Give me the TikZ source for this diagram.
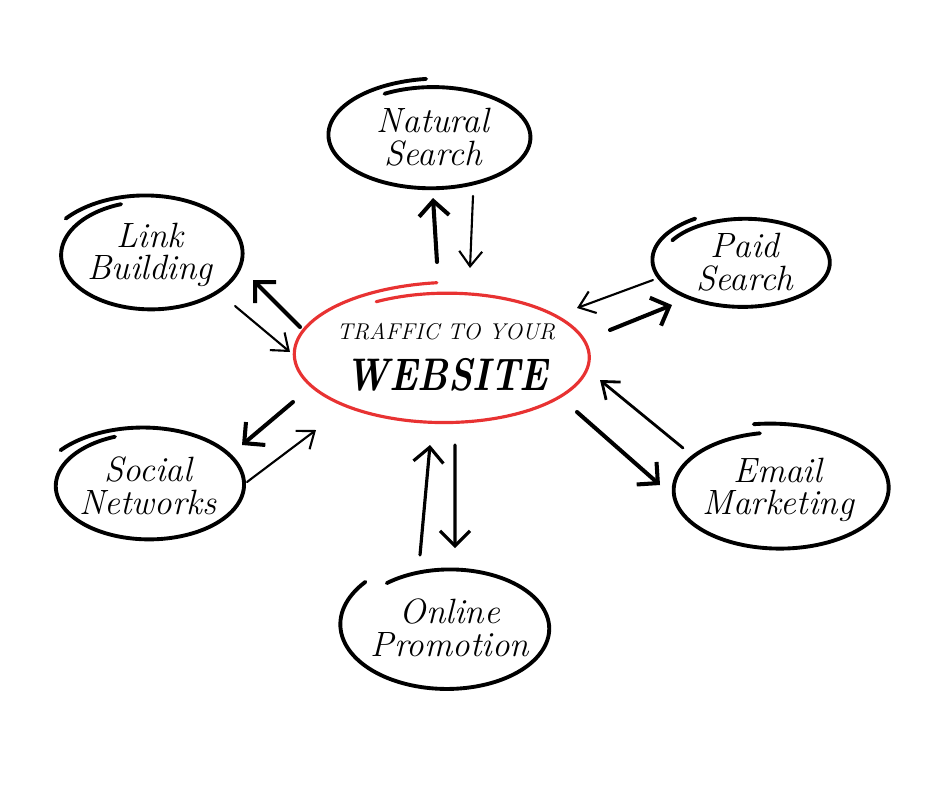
\documentclass[tikz,border=0pt]{standalone}
\usepackage{tikz}
\usepackage{graphicx}
\usetikzlibrary{calc,arrows.meta,shapes.geometric}
\definecolor{penred}{RGB}{232,50,50}

\begin{document}
\begin{tikzpicture}[
  topic/.style={ellipse, inner sep=0pt, align=center, font=\fontsize{20}{18.5}\selectfont\itshape},
  pen/.style={line width=2.2pt, line cap=round, line join=round},
  thinarr/.style={line width=1.2pt, line cap=round, -{Straight Barb[length=3mm,width=4.6mm]}},
  thickarr/.style={line width=2.3pt, line cap=round, -{Straight Barb[length=3mm,width=6mm]}}
]
\useasboundingbox (0,0) rectangle (18.8,-15.76);
% sketchy outline: style, node, x radius, y radius, start angle, sweep
\def\ring#1#2#3#4#5#6{\draw[#1, shift={(#2.center)}] plot[domain=0:1, samples=120, smooth]
  ({#3*(0.96+0.16*\x^3)*cos(#5+#6*\x)}, {#4*(0.96+0.16*\x^3)*sin(#5+#6*\x)});}

\node[topic, minimum width=5.9cm, minimum height=2.66cm] (web) at (8.94,-7.14) {};
\node[font=\fontsize{13}{14}\selectfont\itshape] (traffic) at (8.92,-6.64) {TRAFFIC TO YOUR};
\node[font=\fontsize{26}{28}\selectfont\bfseries\itshape, inner sep=1pt] (site) at (8.94,-7.5)
  {\scalebox{0.82}[1]{WEBSITE}};
\node[topic] (nat) at (8.66,-2.74) {Natural\\Search};
\node[topic] (paid) at (14.9,-5.24) {Paid\\Search};
\node[topic] (email) at (15.56,-9.80) {Email\\Marketing};
\node[topic] (online) at (9.0,-12.56) {Online\\Promotion};
\node[topic] (social) at (2.96,-9.72) {Social\\Networks};
\node[topic] (link) at (3.0,-5.10) {Link\\Building};

\ring{pen, draw=penred, line width=1.8pt}{web}{2.95}{1.33}{120}{-387}
\ring{pen, shift={(0.06,0)}}{nat}{2.02}{1.04}{120}{-387}
\ring{pen, shift={(-0.06,0)}}{paid}{1.75}{0.9}{150}{-390}
\ring{pen, shift={(-0.04,0)}}{email}{2.17}{1.2}{100}{362}
\ring{pen, shift={(-0.08,0.04)}}{online}{2.05}{1.22}{130}{-353}
\ring{pen, shift={(-0.12,-0.08)}}{social}{1.92}{1.1}{111}{394}
\ring{pen, shift={(-0.08,-0.14)}}{link}{1.85}{1.12}{109}{396}

% arrows in and out
\draw[thickarr] ([shift={(-0.2,1.9)}]web.center) -- ([shift={(0.0,-1.22)}]nat.center);
\draw[thinarr] ([shift={(0.8,-1.18)}]nat.center) -- ([shift={(0.46,1.78)}]web.center);
\draw[thinarr] ([shift={(-1.84,-0.36)}]paid.center) -- ([shift={(2.6,0.98)}]web.center);
\draw[thickarr] ([shift={(3.26,0.54)}]web.center) -- ([shift={(-1.46,-0.86)}]paid.center);
\draw[thinarr, line width=1.6pt] ([shift={(-1.9,0.84)}]email.center) -- ([shift={(3.06,-0.46)}]web.center);
\draw[thickarr] ([shift={(2.6,-1.1)}]web.center) -- ([shift={(-2.36,0.1)}]email.center);
\draw[thickarr, line width=1.8pt] ([shift={(-0.6,1.46)}]online.center) -- ([shift={(-0.34,-1.76)}]web.center);
\draw[thickarr, line width=1.8pt] ([shift={(0.16,-1.76)}]web.center) -- ([shift={(0.1,1.6)}]online.center);
\draw[thickarr] ([shift={(-3.08,-0.9)}]web.center) -- ([shift={(1.88,0.82)}]social.center);
\draw[thinarr] ([shift={(1.98,0.08)}]social.center) -- ([shift={(-2.62,-1.46)}]web.center);
\draw[thickarr] ([shift={(-2.94,0.6)}]web.center) -- ([shift={(2.06,-0.5)}]link.center);
\draw[thinarr] ([shift={(1.7,-1.02)}]link.center) -- ([shift={(-3.14,0.1)}]web.center);
\end{tikzpicture}
\end{document}
